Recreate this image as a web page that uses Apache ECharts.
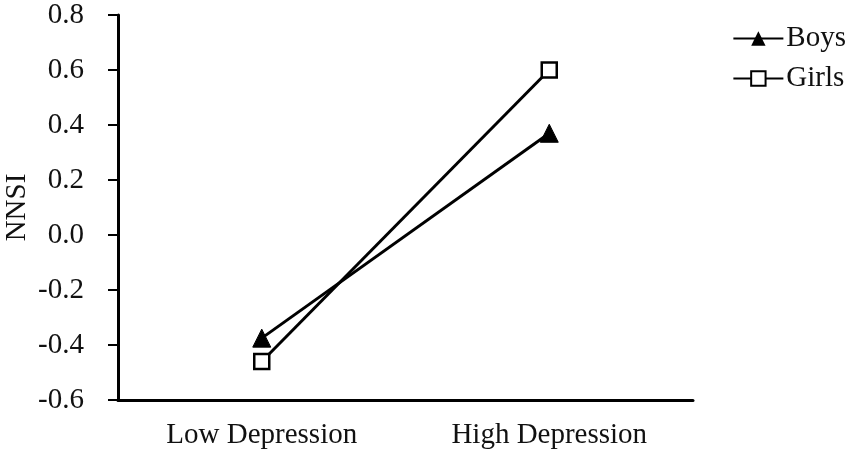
<!DOCTYPE html>
<html><head><meta charset="utf-8">
<script src="https://cdn.jsdelivr.net/npm/echarts@6/dist/echarts.min.js"></script>
<style>html,body{margin:0;padding:0;background:#fff}#c{width:851px;height:455px}</style>
</head><body><div id="c"></div>
<script>
const categories = ['Low Depression', 'High Depression'];
const boys = [-0.375, 0.37];
const girls = [-0.46, 0.60];
const yMin = -0.6, yMax = 0.8, yStep = 0.2;
const font = 'Liberation Serif';
const fs = 29;
const chart = echarts.init(document.getElementById('c'), null, {renderer: 'canvas'});
chart.setOption({
  animation: false,
  backgroundColor: '#fff',
  grid: {left: 118, right: 158, top: 15, bottom: 55, containLabel: false, outerBoundsMode: 'none'},
  legend: {
    orient: 'vertical', right: 0, top: 19, itemWidth: 50, itemHeight: 18, itemGap: 11,
    textStyle: {fontFamily: font, fontSize: fs, color: '#111', padding: [0,0,0,-2]},
    data: ['Boys', 'Girls']
  },
  xAxis: {
    type: 'category', data: categories, boundaryGap: true,
    axisLine: {onZero: false, lineStyle: {color: '#000', width: 3}},
    axisTick: {show: false},
    axisLabel: {fontFamily: font, fontSize: fs, color: '#111', margin: 21}
  },
  yAxis: {
    type: 'value', min: yMin, max: yMax, interval: yStep,
    name: 'NNSI', nameLocation: 'middle', nameGap: 86, nameRotate: 90, nameMoveOverlap: false,
    nameTextStyle: {fontFamily: font, fontSize: fs, color: '#111'},
    axisLine: {show: true, lineStyle: {color: '#000', width: 3}},
    axisTick: {show: true, inside: false, length: 10, lineStyle: {color: '#000', width: 2}},
    splitLine: {show: false},
    axisLabel: {fontFamily: font, fontSize: fs, color: '#111', margin: 34,
      formatter: v => v.toFixed(1)}
  },
  series: [
    {name: 'Boys', type: 'line', data: boys, symbol: 'triangle', symbolSize: 18,
     lineStyle: {color: '#000', width: 3}, itemStyle: {color: '#000', borderColor: '#000'}, z: 3},
    {name: 'Girls', type: 'line', data: girls, symbol: 'rect', symbolSize: 15,
     lineStyle: {color: '#000', width: 3}, itemStyle: {color: '#fff', borderColor: '#000', borderWidth: 2.5}, z: 4}
  ]
});
</script></body></html>
